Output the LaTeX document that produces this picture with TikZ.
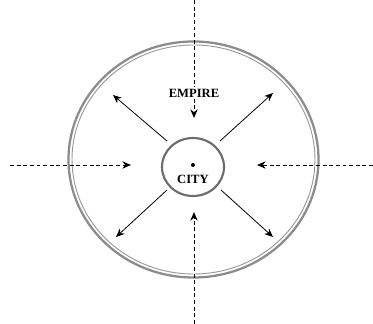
\documentclass[tikz,border=0pt]{standalone}
\usepackage{fontspec}
\setmainfont{Liberation Serif}
\usetikzlibrary{arrows.meta}
\tikzset{
  dashline/.style={densely dashed, line width=0.6pt},
  solidline/.style={line width=0.6pt},
  tip/.style={-{Stealth[length=6.5pt,width=5.5pt]}},
  label/.style={font=\fontsize{9.5}{11}\selectfont\bfseries, inner sep=1pt}
}
\begin{document}
\begin{tikzpicture}[x=0.0265cm,y=-0.0265cm]
\useasboundingbox (0,0) rectangle (373,324);

% Empire
\draw[gray!90, line width=1.7pt]
(193.5,159.5) ellipse (125 and 118);
\draw[gray!80, line width=0.7pt]
(193.5,159.5) ellipse (121.5 and 114.5);

% City
\draw[gray!85!black, line width=1.6pt]
(193,167) ellipse (31 and 29);
\fill (193,165) circle (2);

\node[label] (city) at (193,179) {CITY};
\node[label] (empire) at (194,93) {EMPIRE};

% Points
\coordinate (ntop) at (194,0);
\coordinate (nin) at (194,118);
\coordinate (sbot) at (194,324);
\coordinate (sin) at (194,212);
\coordinate (wout) at (10,165);
\coordinate (win) at (131,165);
\coordinate (eout) at (373,165);
\coordinate (ein) at (257,165);

\coordinate (nwa) at (167,141);
\coordinate (nwb) at (113,95);
\coordinate (nea) at (220,141);
\coordinate (neb) at (273,93);
\coordinate (swa) at (167,190);
\coordinate (swb) at (116,237);
\coordinate (sea) at (221,190);
\coordinate (seb) at (273,237);

% Pression extérieure
\draw[dashline] (ntop) -- (empire.north);
\draw[dashline, tip] (empire.south) -- (nin);
\draw[dashline, tip] (sbot) -- (sin);
\draw[dashline, tip] (wout) -- (win);
\draw[dashline, tip] (eout) -- (ein);

% Expansion
\draw[solidline, tip] (nwa) -- (nwb);
\draw[solidline, tip] (nea) -- (neb);
\draw[solidline, tip] (swa) -- (swb);
\draw[solidline, tip] (sea) -- (seb);

\end{tikzpicture}
\end{document}
